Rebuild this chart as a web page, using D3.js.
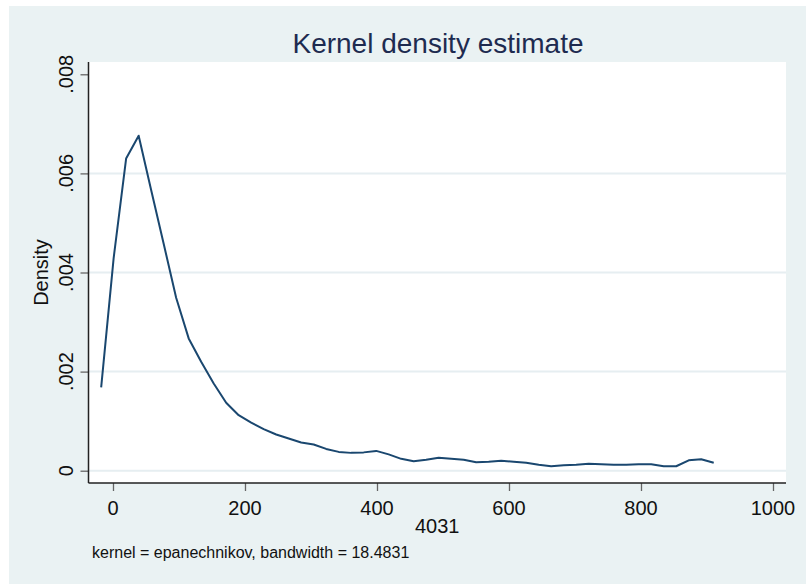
<!DOCTYPE html>
<html>
<head>
<meta charset="utf-8">
<script src="https://cdn.jsdelivr.net/npm/d3@7"></script>
<style>
  html, body { margin: 0; padding: 0; background: #ffffff; }
  svg { display: block; }
  text { font-family: "Liberation Sans", Arial, sans-serif; }
</style>
</head>
<body>
<svg id="chart" width="806" height="584"></svg>
<script>
// evaluation points of the density (x) and density values (y)
const gridX = [-17.9, 1.0, 19.9, 38.9, 57.9, 76.8, 95.7, 114.7, 133.6, 152.6,
  171.5, 190.4, 209.4, 228.3, 247.3, 266.2, 285.1, 304.1, 323.0, 342.0,
  360.9, 379.8, 398.8, 417.7, 436.7, 455.6, 474.5, 493.5, 512.4, 531.4,
  550.3, 569.2, 588.2, 607.1, 626.1, 645.0, 663.9, 682.9, 701.8, 720.8,
  739.7, 758.6, 777.6, 796.5, 815.5, 834.4, 853.3, 872.3, 891.2, 910.2];

const density = [0.00168, 0.00429, 0.00630, 0.00676, 0.00566, 0.00458, 0.00349, 0.00267, 0.00220, 0.00176,
  0.00137, 0.00112, 0.00097, 0.00084, 0.00073, 0.00065, 0.00057, 0.00053, 0.00044, 0.00038,
  0.00036, 0.00037, 0.00040, 0.00033, 0.00024, 0.00019, 0.00022, 0.00026, 0.00024, 0.00022,
  0.00017, 0.00018, 0.00020, 0.00018, 0.00016, 0.00012, 0.00009, 0.00011, 0.00012, 0.00014,
  0.00013, 0.00012, 0.00012, 0.00013, 0.00013, 0.00009, 0.00009, 0.00021, 0.00023, 0.00016];

const xTicks = [0, 200, 400, 600, 800, 1000];
const yTicks = [0, 0.002, 0.004, 0.006, 0.008];
const yTickLabels = ["0", ".002", ".004", ".006", ".008"];

const svg = d3.select("#chart");

// outer graph region (light bluish background)
svg.append("rect")
  .attr("x", 9).attr("y", 6)
  .attr("width", 797).attr("height", 578)
  .attr("fill", "#eaf2f3");

const plot = { left: 88.5, right: 786, top: 62, bottom: 483 };

const x = d3.scaleLinear().domain([-37.1, 1019.7]).range([plot.left, plot.right]);
const y = d3.scaleLinear().domain([-0.000248, 0.008248]).range([plot.bottom, plot.top]);

// plot region
svg.append("rect")
  .attr("x", plot.left).attr("y", plot.top)
  .attr("width", plot.right - plot.left).attr("height", plot.bottom - plot.top)
  .attr("fill", "#ffffff");

// grid lines (none at the top tick)
svg.append("g")
  .selectAll("line")
  .data(yTicks.filter(d => d < 0.008))
  .join("line")
  .attr("x1", plot.left).attr("x2", plot.right)
  .attr("y1", d => y(d)).attr("y2", d => y(d))
  .attr("stroke", "#e6eef1")
  .attr("stroke-width", 2);

// density line
const line = d3.line()
  .x(d => x(d[0]))
  .y(d => y(d[1]));

svg.append("path")
  .datum(gridX.map((d, i) => [d, density[i]]))
  .attr("d", line)
  .attr("fill", "none")
  .attr("stroke", "#1a476f")
  .attr("stroke-width", 2)
  .attr("stroke-linejoin", "round");

// y axis
const yAxis = d3.axisLeft(y)
  .tickValues(yTicks)
  .tickSize(8)
  .tickFormat("");
const gy = svg.append("g")
  .attr("transform", `translate(${plot.left},0)`)
  .call(yAxis);
gy.select(".domain").remove();
gy.selectAll(".tick line").attr("stroke", "#666").attr("stroke-width", 1.3);

svg.append("line")
  .attr("x1", plot.left).attr("x2", plot.left)
  .attr("y1", plot.top).attr("y2", plot.bottom)
  .attr("stroke", "#222").attr("stroke-width", 1.5);

svg.append("g")
  .selectAll("text")
  .data(yTicks)
  .join("text")
  .attr("transform", d => `translate(72.5,${y(d)}) rotate(-90)`)
  .attr("text-anchor", "middle")
  .attr("font-size", 20)
  .attr("fill", "#111")
  .text((d, i) => yTickLabels[i]);

// x axis
const xAxis = d3.axisBottom(x)
  .tickValues(xTicks)
  .tickSize(8)
  .tickFormat("");
const gx = svg.append("g")
  .attr("transform", `translate(0,${plot.bottom})`)
  .call(xAxis);
gx.select(".domain").remove();
gx.selectAll(".tick line").attr("stroke", "#666").attr("stroke-width", 1.3);

svg.append("line")
  .attr("x1", plot.left).attr("x2", plot.right)
  .attr("y1", plot.bottom).attr("y2", plot.bottom)
  .attr("stroke", "#222").attr("stroke-width", 1.5);

svg.append("g")
  .selectAll("text")
  .data(xTicks)
  .join("text")
  .attr("x", d => x(d))
  .attr("y", 514.5)
  .attr("text-anchor", "middle")
  .attr("font-size", 20)
  .attr("fill", "#111")
  .text(d => d);

// axis titles
svg.append("text")
  .attr("x", (plot.left + plot.right) / 2)
  .attr("y", 533)
  .attr("text-anchor", "middle")
  .attr("font-size", 20)
  .attr("fill", "#111")
  .text("4031");

svg.append("text")
  .attr("transform", `translate(47.7,${(plot.top + plot.bottom) / 2}) rotate(-90)`)
  .attr("text-anchor", "middle")
  .attr("font-size", 20)
  .attr("fill", "#111")
  .text("Density");

// title
svg.append("text")
  .attr("x", 438)
  .attr("y", 53)
  .attr("text-anchor", "middle")
  .attr("font-size", 28)
  .attr("fill", "#1e2b50")
  .text("Kernel density estimate");

// note
svg.append("text")
  .attr("x", 92)
  .attr("y", 558)
  .attr("font-size", 16)
  .attr("fill", "#111")
  .text("kernel = epanechnikov, bandwidth = 18.4831");
</script>
</body>
</html>
